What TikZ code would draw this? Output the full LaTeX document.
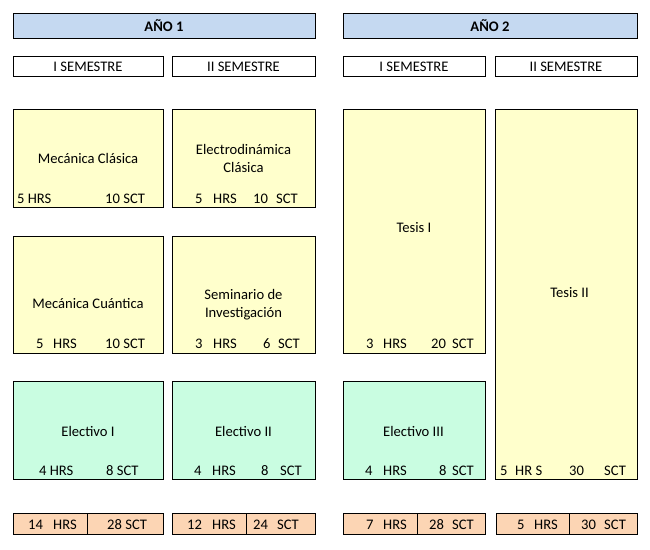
\documentclass[tikz,border=0pt]{standalone}
\usepackage{fontspec}
\setmainfont{Carlito}
\definecolor{cyel}{HTML}{FFFFCC}
\definecolor{cgrn}{HTML}{C9FDE1}
\definecolor{corg}{HTML}{FCD5B4}
\definecolor{cblu}{HTML}{C5D9F1}
\begin{document}
\begin{tikzpicture}[x=1pt,y=-1pt,
  cell/.style={draw=black, line width=0.9pt, inner sep=0pt, outer sep=0pt},
  ybox/.style={cell, fill=cyel},
  gbox/.style={cell, fill=cgrn},
  obox/.style={cell, fill=corg},
  bbox/.style={cell, fill=cblu},
  wbox/.style={cell, fill=white},
  tx/.style={font=\fontsize{14.6}{17.5}\selectfont, inner sep=0pt, anchor=base west},
  ct/.style={font=\fontsize{14.6}{17.5}\selectfont, inner sep=0pt, anchor=base},
  bt/.style={font=\fontsize{14.6}{17.5}\selectfont\bfseries, inner sep=0pt, anchor=base}]
\useasboundingbox (0,0) rectangle (650,549);

% year bars
\node[bbox, minimum width=302pt, minimum height=25pt] (y1) at (164,25.5) {};
\node[bbox, minimum width=294pt, minimum height=25pt] (y2) at (490,25.5) {};
\node[bt] (y1t) at (164,31) {AÑO 1};
\node[bt] (y2t) at (490,31) {AÑO 2};

% semester boxes
\node[wbox, minimum width=150pt, minimum height=20pt] (s1) at (88,66) {};
\node[wbox, minimum width=143pt, minimum height=20pt] (s2) at (243.5,66) {};
\node[wbox, minimum width=142pt, minimum height=20pt] (s3) at (414,66) {};
\node[wbox, minimum width=142pt, minimum height=20pt] (s4) at (566,66) {};
\node[ct] (s1t) at (88,71) {I SEMESTRE};
\node[ct] (s2t) at (243.5,71) {II SEMESTRE};
\node[ct] (s3t) at (414,71) {I SEMESTRE};
\node[ct] (s4t) at (566,71) {II SEMESTRE};

% row 1
\node[ybox, minimum width=150pt, minimum height=98pt] (mc) at (88,158) {};
\node[ybox, minimum width=143pt, minimum height=98pt] (ed) at (243.5,158) {};
\node[ct] (mct) at (88,163) {Mecánica Clásica};
\node[ct] (edt1) at (243.5,154) {Electrodinámica};
\node[ct] (edt2) at (243.5,172) {Clásica};
\node[tx] (mch) at (17,203) {5 HRS};
\node[tx] (mcs) at (105,203) {10 SCT};
\node[tx] (edh1) at (195,203) {5};
\node[tx] (edh2) at (213,203) {HRS};
\node[tx] (eds1) at (253,203) {10};
\node[tx] (eds2) at (276,203) {SCT};

% row 2
\node[ybox, minimum width=150pt, minimum height=117pt] (mq) at (88,294.5) {};
\node[ybox, minimum width=143pt, minimum height=117pt] (si) at (243.5,294.5) {};
\node[ct] (mqt) at (88,308) {Mecánica Cuántica};
\node[ct] (sit1) at (243.5,299) {Seminario de};
\node[ct] (sit2) at (243.5,317) {Investigación};
\node[tx] (mqh1) at (36,348) {5};
\node[tx] (mqh2) at (53,348) {HRS};
\node[tx] (mqs) at (105,348) {10 SCT};
\node[tx] (sih1) at (195,348) {3};
\node[tx] (sih2) at (213,348) {HRS};
\node[tx] (sis1) at (263,348) {6};
\node[tx] (sis2) at (278,348) {SCT};

% Tesis I
\node[ybox, minimum width=142pt, minimum height=244pt] (t1) at (414,231) {};
\node[ct] (t1t) at (414,232) {Tesis I};
\node[tx] (t1h1) at (366,348) {3};
\node[tx] (t1h2) at (383,348) {HRS};
\node[tx] (t1s1) at (431,348) {20};
\node[tx] (t1s2) at (452,348) {SCT};

% Tesis II
\node[ybox, minimum width=142pt, minimum height=370pt] (t2) at (566,294) {};
\node[ct] (t2t) at (569.5,297) {Tesis II};
\node[tx] (t2h1) at (500,475) {5};
\node[tx] (t2h2) at (515,475) {HR S};
\node[tx] (t2s1) at (569,475) {30};
\node[tx] (t2s2) at (604,475) {SCT};

% row 3 (electives)
\node[gbox, minimum width=150pt, minimum height=98pt] (e1) at (88,430.5) {};
\node[gbox, minimum width=143pt, minimum height=98pt] (e2) at (243.5,430.5) {};
\node[gbox, minimum width=142pt, minimum height=98pt] (e3) at (414,430.5) {};
\node[ct] (e1t) at (88,436) {Electivo I};
\node[ct] (e2t) at (243.5,436) {Electivo II};
\node[ct] (e3t) at (413.5,436) {Electivo III};
\node[tx] (e1h) at (39,475) {4 HRS};
\node[tx] (e1s) at (106,475) {8 SCT};
\node[tx] (e2h1) at (194,475) {4};
\node[tx] (e2h2) at (212,475) {HRS};
\node[tx] (e2s1) at (261,475) {8};
\node[tx] (e2s2) at (280,475) {SCT};
\node[tx] (e3h1) at (365,475) {4};
\node[tx] (e3h2) at (383,475) {HRS};
\node[tx] (e3s1) at (439,475) {8};
\node[tx] (e3s2) at (452,475) {SCT};

% totals
\node[obox, minimum width=74pt, minimum height=21pt] (a1) at (50,523.5) {};
\node[obox, minimum width=76pt, minimum height=21pt] (b1) at (125,523.5) {};
\node[obox, minimum width=74pt, minimum height=21pt] (a2) at (209,523.5) {};
\node[obox, minimum width=69pt, minimum height=21pt] (b2) at (280.5,523.5) {};
\node[obox, minimum width=74pt, minimum height=21pt] (a3) at (380,523.5) {};
\node[obox, minimum width=68pt, minimum height=21pt] (b3) at (451,523.5) {};
\node[obox, minimum width=73pt, minimum height=21pt] (a4) at (532.5,523.5) {};
\node[obox, minimum width=68pt, minimum height=21pt] (b4) at (603,523.5) {};
\node[tx] (a1n) at (28,529) {14};
\node[tx] (a1u) at (53,529) {HRS};
\node[tx] (b1t) at (107,529) {28 SCT};
\node[tx] (a2n) at (187,529) {12};
\node[tx] (a2u) at (212,529) {HRS};
\node[tx] (b2n) at (253,529) {24};
\node[tx] (b2u) at (277,529) {SCT};
\node[tx] (a3n) at (366,529) {7};
\node[tx] (a3u) at (383,529) {HRS};
\node[tx] (b3n) at (429,529) {28};
\node[tx] (b3u) at (452,529) {SCT};
\node[tx] (a4n) at (517,529) {5};
\node[tx] (a4u) at (534,529) {HRS};
\node[tx] (b4n) at (581,529) {30};
\node[tx] (b4u) at (604,529) {SCT};
\end{tikzpicture}
\end{document}
